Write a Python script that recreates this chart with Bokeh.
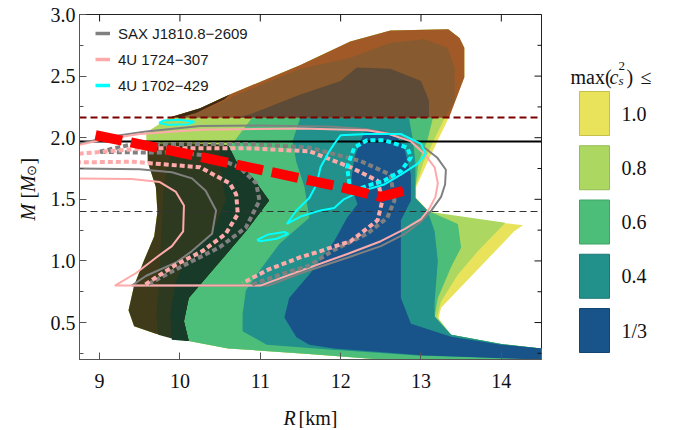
import math
from bokeh.plotting import figure
from bokeh.models import (Range1d, FixedTicker, PrintfTickFormatter, Legend, LegendItem)
from bokeh.layouts import row, column
from bokeh.embed import file_html
from bokeh.resources import INLINE
from bokeh.core.properties import value

# ---------------- axes ----------------
R_RANGE = (8.75, 14.5)
M_RANGE = (0.2, 3.0)
R_TICKS = [9, 10, 11, 12, 13, 14]
M_TICKS = [0.5, 1.0, 1.5, 2.0, 2.5, 3.0]
M_MINOR = [0.25, 0.75, 1.25, 1.75, 2.25, 2.75]

# reference masses (horizontal lines)
M_BOUND_MAX = 2.165
M_PSR = 1.97
M_CANON = 1.4

# ---------------- max(c_s^2) bands (R [km], M [Msun]) ----------------
band_labels = ["1.0", "0.8", "0.6", "0.4", "1/3"]
band_colors = ["#e8e35a", "#acd862", "#4dbe7a", "#22908b", "#18548a"]
band_edges = ["#c4c04a", "#92bb50", "#3ea467", "#1b7774", "#124572"]

band_yellow = [(9.7, 0.41), (9.43, 0.47), (9.36, 0.6), (9.43, 0.8), (9.55, 1.0), (9.68, 1.2),
               (9.72, 1.4), (9.7, 1.6), (9.6, 1.8), (9.58, 2.04), (9.87, 2.165), (10.25, 2.24),
               (10.62, 2.35), (11.5, 2.59), (12.12, 2.78), (12.62, 2.87), (13.34, 2.88),
               (13.48, 2.81), (13.54, 2.73), (13.54, 2.49), (13.33, 2.14), (13.21, 1.98),
               (13.08, 1.80), (12.94, 1.6), (12.94, 1.51), (13.12, 1.39), (14.0, 1.31),
               (14.27, 1.29), (14.16, 1.24), (13.25, 0.62), (13.21, 0.51), (13.375, 0.40),
               (14.0, 0.325), (14.5, 0.29), (14.5, 0.2), (12.5, 0.2), (11.6, 0.245),
               (10.6, 0.29), (10.11, 0.35)]
band_lgreen = [(9.7, 0.41), (9.43, 0.47), (9.36, 0.6), (9.43, 0.8), (9.55, 1.0), (9.68, 1.2),
               (9.72, 1.4), (9.7, 1.6), (9.6, 1.8), (9.58, 2.04), (9.87, 2.165), (10.25, 2.24),
               (10.62, 2.35), (11.5, 2.59), (12.12, 2.78), (12.62, 2.87), (13.34, 2.88),
               (13.48, 2.81), (13.5, 2.73), (13.5, 2.49), (13.28, 2.14), (13.16, 1.98),
               (13.03, 1.80), (12.93, 1.6), (12.93, 1.51), (13.1, 1.40), (14.05, 1.31),
               (13.71, 1.08), (13.46, 0.89), (13.25, 0.67), (13.2, 0.55), (13.375, 0.40),
               (14.0, 0.325), (14.5, 0.29), (14.5, 0.2), (12.5, 0.2), (11.6, 0.245),
               (10.6, 0.29), (10.11, 0.35)]
band_green = [(9.9, 0.36), (9.88, 0.57), (9.95, 0.84), (10.11, 1.1), (10.4, 1.22), (10.57, 1.49),
              (10.55, 1.8), (10.65, 1.95), (10.9, 2.165), (13.15, 2.165), (13.08, 1.98),
              (12.97, 1.80), (12.93, 1.6), (12.93, 1.51), (13.08, 1.41), (13.46, 1.30),
              (13.5, 1.11), (13.375, 0.95), (13.21, 0.70), (13.17, 0.55), (13.375, 0.40),
              (14.0, 0.325), (14.5, 0.29), (14.5, 0.2), (12.5, 0.2), (11.6, 0.245),
              (10.6, 0.29), (10.11, 0.35)]
band_teal = [(10.78, 0.43), (10.78, 0.57), (10.82, 0.76), (10.99, 0.92), (11.24, 1.14),
             (11.61, 1.35), (11.55, 1.6), (11.45, 1.8), (11.4, 1.97), (11.5, 2.165),
             (12.85, 2.165), (12.9, 1.98), (12.93, 1.8), (12.93, 1.6), (12.93, 1.51),
             (13.08, 1.41), (13.17, 1.24), (13.21, 1.0), (13.17, 0.67), (13.17, 0.55),
             (13.375, 0.40), (14.0, 0.325), (14.5, 0.29), (14.5, 0.205), (14.0, 0.215),
             (13.0, 0.23), (11.9, 0.28), (11.08, 0.32)]
band_blue = [(11.61, 0.32), (11.45, 0.38), (11.3, 0.54), (11.36, 0.70), (11.61, 0.89),
             (11.92, 1.16), (12.08, 1.35), (12.21, 1.46), (12.125, 1.62), (12.17, 1.84),
             (12.29, 2.04), (12.5, 2.06), (12.67, 2.03), (12.79, 1.92), (12.875, 1.70),
             (12.875, 1.49), (12.75, 1.33), (12.75, 0.70), (12.875, 0.49), (13.375, 0.385),
             (14.0, 0.32), (14.5, 0.29), (14.5, 0.2), (14.0, 0.21), (13.0, 0.235), (11.92, 0.29)]
bands = [band_yellow, band_lgreen, band_green, band_teal, band_blue]

# darkened (excluded, small radius) region
dark_colors = ["#3e3a1a", "#2e3a1f", "#183a28"]
dark_1 = [(9.7, 0.41), (9.43, 0.47), (9.36, 0.6), (9.43, 0.8), (9.55, 1.0), (9.68, 1.2),
          (9.72, 1.4), (9.7, 1.6), (9.6, 1.8), (9.6, 1.95), (10.0, 1.96), (10.6, 1.94),
          (10.7, 1.81), (10.9, 1.68), (11.11, 1.49), (10.82, 1.24), (10.4, 0.92),
          (10.11, 0.70), (10.05, 0.51), (10.11, 0.35)]
dark_2 = [(9.73, 0.40), (9.71, 0.57), (9.74, 0.84), (9.76, 1.1), (9.78, 1.35), (9.8, 1.6),
          (9.85, 1.8), (9.95, 1.945), (10.6, 1.94), (10.7, 1.81), (10.9, 1.68), (11.11, 1.49),
          (10.82, 1.24), (10.4, 0.92), (10.11, 0.70), (10.05, 0.51), (10.11, 0.35), (9.9, 0.37)]
dark_3 = [(9.9, 0.36), (9.88, 0.57), (9.95, 0.84), (10.11, 1.05), (10.4, 1.22), (10.57, 1.49),
          (10.5, 1.76), (10.5, 1.9), (10.6, 1.94), (10.7, 1.81), (10.9, 1.68), (11.11, 1.49),
          (10.82, 1.24), (10.4, 0.92), (10.11, 0.70), (10.05, 0.51), (10.11, 0.35)]
darks = [dark_1, dark_2, dark_3]

# region above the maximum-mass bound
brown_colors = ["#a15a27", "#875a2f", "#5e4b37", "#3b2a16"]
brown_1 = [(9.87, 2.165), (10.25, 2.24), (10.62, 2.35), (11.5, 2.59), (12.12, 2.78),
           (12.62, 2.87), (13.34, 2.88), (13.48, 2.81), (13.54, 2.73), (13.54, 2.49),
           (13.35, 2.165)]
brown_2 = [(10.05, 2.165), (10.4, 2.25), (10.75, 2.36), (11.5, 2.56), (12.12, 2.65),
           (12.62, 2.77), (13.04, 2.80), (13.33, 2.73), (13.42, 2.57), (13.42, 2.30),
           (13.3, 2.165)]
brown_3 = [(10.7, 2.165), (10.875, 2.19), (11.5, 2.35), (12.0, 2.46), (12.2, 2.57),
           (12.62, 2.56), (13.0, 2.46), (13.1, 2.30), (13.1, 2.165)]
brown_4 = [(9.87, 2.165), (10.25, 2.24), (10.62, 2.35), (10.55, 2.31), (10.2, 2.2), (10.0, 2.165)]
browns = [brown_1, brown_2, brown_3, brown_4]

# ---------------- source contours ----------------
src_names = ["SAX J1810.8\u22122609", "4U 1724\u2212307", "4U 1702\u2212429"]
src_colors = ["#808080", "#ffaaaa", "#00ffff"]

sax_outer = [(8.74, 1.75), (9.5, 1.745), (9.9, 1.72), (10.15, 1.67), (10.32, 1.57), (10.45, 1.41),
             (10.4, 1.22), (10.15, 1.08), (9.96, 0.99), (9.58, 0.88), (9.4, 0.8), (11.1, 0.8),
             (11.5, 0.9), (12.1, 1.03), (12.5, 1.12), (12.8, 1.22), (13.0, 1.32), (13.13, 1.41),
             (13.25, 1.52), (13.3, 1.62), (13.31, 1.74), (13.2, 1.84), (13.04, 1.92),
             (12.75, 2.02), (12.3, 2.07), (11.9, 2.09), (11.0, 2.10), (10.25, 2.095),
             (9.58, 2.05), (9.15, 2.01), (8.74, 1.95)]
sax_inner = [(10.9, 0.81), (11.3, 0.9), (11.6, 0.96), (11.92, 1.09), (12.33, 1.22), (12.58, 1.35),
             (12.67, 1.49), (12.62, 1.70), (12.25, 1.81), (11.61, 1.92), (10.82, 1.95),
             (9.99, 1.95), (9.36, 1.94), (8.99, 1.885), (9.5, 1.88), (9.99, 1.88), (10.4, 1.85),
             (10.74, 1.76), (10.95, 1.63), (10.99, 1.49), (10.82, 1.27), (10.49, 1.11),
             (9.99, 0.945), (9.57, 0.8)]
u1724_outer = [(8.74, 1.67), (9.4, 1.665), (9.75, 1.64), (9.95, 1.56), (10.05, 1.45), (10.04, 1.24),
               (9.9, 1.12), (9.71, 1.03), (9.45, 0.9), (9.19, 0.8), (11.0, 0.8), (11.5, 0.92),
               (12.1, 1.06), (12.5, 1.16), (12.8, 1.26), (13.0, 1.34), (13.1, 1.42), (13.18, 1.52),
               (13.21, 1.63), (13.17, 1.76), (13.04, 1.87), (12.875, 1.97), (12.6, 2.03),
               (12.33, 2.06), (11.5, 2.075), (10.25, 2.065), (9.5, 2.03), (9.0, 1.98), (8.74, 1.94)]
u1724_inner_a = [(8.74, 1.87), (9.58, 1.915), (10.82, 1.915), (11.61, 1.89), (12.125, 1.76),
                 (12.46, 1.65), (12.52, 1.49), (12.46, 1.33), (12.125, 1.16), (11.75, 1.08),
                 (11.5, 1.03), (11.1, 0.93), (10.78, 0.82)]
u1724_inner_b = [(9.57, 0.81), (9.95, 0.97), (10.28, 1.08), (10.57, 1.22), (10.72, 1.38),
                 (10.7, 1.54), (10.62, 1.63), (10.25, 1.76), (9.41, 1.805), (8.74, 1.80)]
u1702_outer = [(11.33, 1.30), (11.45, 1.41), (11.61, 1.51), (11.7, 1.62), (11.75, 1.76),
               (11.85, 1.88), (11.92, 1.95), (12.0, 2.02), (12.33, 2.03), (12.75, 2.03),
               (13.0, 1.95), (13.06, 1.87), (12.96, 1.79), (12.75, 1.70), (12.54, 1.62),
               (12.33, 1.58), (12.17, 1.54), (12.04, 1.5), (11.92, 1.43), (11.75, 1.41),
               (11.5, 1.36), (11.33, 1.30)]
u1702_blob_a = [(10.96, 1.17), (11.1, 1.215), (11.3, 1.235), (11.35, 1.22), (11.2, 1.18),
                (11.0, 1.16), (10.96, 1.17)]
u1702_blob_b = [(9.74, 2.12), (9.8, 2.14), (10.0, 2.145), (10.18, 2.13), (10.1, 2.11),
                (9.85, 2.105), (9.74, 2.12)]
u1702_inner = [(12.125, 1.56), (12.08, 1.76), (12.17, 1.92), (12.33, 1.98), (12.54, 1.98),
               (12.83, 1.92), (12.875, 1.84), (12.75, 1.73), (12.54, 1.65), (12.33, 1.61),
               (12.125, 1.56)]

# red dashed trend
trend_R = [8.95, 10.0, 11.0, 12.0, 12.5, 12.875]
trend_M = [2.02, 1.88, 1.74, 1.60, 1.52, 1.585]


def xs(poly):
    return [pt[0] for pt in poly]


def ys(poly):
    return [pt[1] for pt in poly]


SERIF = "Liberation Serif"
SANS = "Liberation Sans"
INK = "#111111"
H = 396          # height of the row with the three panels
BT, BB = 14, 37  # common top / bottom borders -> frame spans y = 14..359 px
FRAME_TOP, FRAME_BOT = BT, H - BB

# ---------------- main panel ----------------
p = figure(width=513, height=H, x_range=Range1d(*R_RANGE), y_range=Range1d(*M_RANGE),
           output_backend="svg", toolbar_location=None,
           min_border_left=39, min_border_right=12, min_border_top=BT, min_border_bottom=BB)
p.outline_line_color = "#222222"
p.grid.visible = False

for poly, col in zip(bands, band_colors):
    p.patch(xs(poly), ys(poly), fill_color=col, line_color=None)
for poly, col in zip(darks, dark_colors):
    p.patch(xs(poly), ys(poly), fill_color=col, line_color=None)
for poly, col in zip(browns, brown_colors):
    p.patch(xs(poly), ys(poly), fill_color=col, line_color=None)

p.hspan(y=[M_CANON], line_color="#333333", line_width=1, line_dash="7 4")
p.hspan(y=[M_BOUND_MAX], line_color="#7a0000", line_width=2, line_dash="7 4")
p.hspan(y=[M_PSR], line_color="#000000", line_width=2)

p.line(xs(sax_outer), ys(sax_outer), line_color=src_colors[0], line_width=2)
p.line(xs(u1724_outer), ys(u1724_outer), line_color=src_colors[1], line_width=2)
p.line(xs(sax_inner), ys(sax_inner), line_color=src_colors[0], line_width=4, line_dash="5 3")
p.multi_line([xs(u1724_inner_a), xs(u1724_inner_b)], [ys(u1724_inner_a), ys(u1724_inner_b)],
             line_color=src_colors[1], line_width=4, line_dash="5 3")
p.multi_line([xs(u1702_outer), xs(u1702_blob_a), xs(u1702_blob_b)],
             [ys(u1702_outer), ys(u1702_blob_a), ys(u1702_blob_b)],
             line_color=src_colors[2], line_width=2)
p.line(xs(u1702_inner), ys(u1702_inner), line_color=src_colors[2], line_width=4, line_dash="5 3")

p.line(trend_R, trend_M, line_color="#ff0000", line_width=10, line_dash="27 9")

# ticks on the top and right spines (inward)
p.scatter(x=R_TICKS, y=[M_RANGE[1]] * len(R_TICKS), marker="dash", angle=math.pi / 2,
          size=14, line_color=INK, line_width=1)
p.scatter(x=[R_RANGE[1]] * len(M_TICKS), y=M_TICKS, marker="dash", size=14,
          line_color=INK, line_width=1)
p.scatter(x=[R_RANGE[1]] * len(M_MINOR), y=M_MINOR, marker="dash", size=8,
          line_color=INK, line_width=1)

# legend for the sources
nan = float("nan")
leg_items = []
for name, col in zip(src_names, src_colors):
    r = p.line(x=[nan], y=[nan], line_color=col, line_width=3.5)
    leg_items.append(LegendItem(label=name, renderers=[r]))
legend = Legend(items=leg_items, location=(16, 264), padding=0, margin=0, spacing=6,
                glyph_width=15, glyph_height=20, label_height=20, label_standoff=8,
                label_text_font=SANS, label_text_font_size="15px", label_text_color="#1a1a1a",
                background_fill_alpha=0, border_line_alpha=0)
p.add_layout(legend)

xb = p.xaxis[0]
xb.ticker = FixedTicker(ticks=R_TICKS, minor_ticks=[])
xb.formatter = PrintfTickFormatter(format="%d")
yl = p.yaxis[0]
yl.ticker = FixedTicker(ticks=M_TICKS, minor_ticks=M_MINOR)
yl.formatter = PrintfTickFormatter(format="%.1f")
for ax in (xb, yl):
    ax.axis_line_color = "#555555"
    ax.major_tick_line_color = "#555555"
    ax.minor_tick_line_color = "#555555"
    ax.major_tick_in = 7
    ax.major_tick_out = 0
    ax.minor_tick_in = 4
    ax.minor_tick_out = 0
    ax.major_label_text_font = SERIF
    ax.major_label_text_font_size = "20px"
    ax.major_label_text_color = INK
xb.major_label_standoff = 14
yl.major_label_standoff = 4

# ---------------- y-axis title panel (data y = -page y) ----------------
t = figure(width=40, height=H, x_range=Range1d(0, 40), y_range=Range1d(-FRAME_BOT, -FRAME_TOP),
           output_backend="svg", toolbar_location=None, x_axis_type=None, y_axis_type=None,
           min_border_left=0, min_border_right=0, min_border_top=BT, min_border_bottom=BB)
t.outline_line_color = None
t.grid.visible = False
ylab_parts = [("M", "italic", "20px", 27, -220), ("[", "normal", "20px", 27, -198),
              ("M", "italic", "20px", 27, -191.5), ("\u2299", "normal", "13px", 31, -175),
              ("]", "normal", "20px", 27, -164)]
for txt, sty, fs, x0, y0 in ylab_parts:
    t.text(x=[x0], y=[y0], text=[txt], angle=math.pi / 2, text_font=value(SERIF),
           text_font_style=sty, text_font_size=fs, text_color=INK,
           text_baseline="alphabetic", text_align="left")

# ---------------- colour key (data y = page y) ----------------
k = figure(width=120, height=H, x_range=Range1d(0, 120), y_range=Range1d(FRAME_BOT, FRAME_TOP),
           output_backend="svg", toolbar_location=None, x_axis_type=None, y_axis_type=None,
           min_border_left=0, min_border_right=0, min_border_top=BT, min_border_bottom=BB)
k.outline_line_color = None
k.grid.visible = False
box_top = [91 + i * 54.25 for i in range(len(band_labels))]
k.quad(left=26, right=56, top=box_top, bottom=[b + 44 for b in box_top],
       fill_color=band_colors, line_color=band_edges, line_width=1)
k.text(x=68, y=[b + 22 for b in box_top], text=band_labels, text_font=value(SERIF),
       text_font_size="20px", text_color=INK, text_baseline="middle")
title_parts = [("max(", "normal", "20px", 17, 76), ("c", "italic", "20px", 56, 76),
               ("2", "normal", "13px", 65, 65), ("s", "italic", "13px", 65, 80),
               (")", "normal", "20px", 73, 76), ("\u2264", "normal", "20px", 87, 76)]
for txt, sty, fs, x0, y0 in title_parts:
    k.text(x=[x0], y=[y0], text=[txt], text_font=value(SERIF), text_font_style=sty,
           text_font_size=fs, text_color=INK, text_baseline="alphabetic")

# ---------------- x-axis title strip ----------------
XH = 32
xl = figure(width=673, height=XH, x_range=Range1d(0, 673), y_range=Range1d(XH, 0),
            output_backend="svg", toolbar_location=None, x_axis_type=None, y_axis_type=None,
            min_border=0)
xl.outline_line_color = None
xl.grid.visible = False
xl.text(x=[283], y=[21], text=["R"], text_font=value(SERIF), text_font_style="italic",
        text_font_size="20px", text_color=INK, text_baseline="alphabetic")
xl.text(x=[298], y=[21], text=["[km]"], text_font=value(SERIF),
        text_font_size="20px", text_color=INK, text_baseline="alphabetic")

layout = column(row(t, p, k), xl)
open("out.html", "w").write(file_html(layout, INLINE))
